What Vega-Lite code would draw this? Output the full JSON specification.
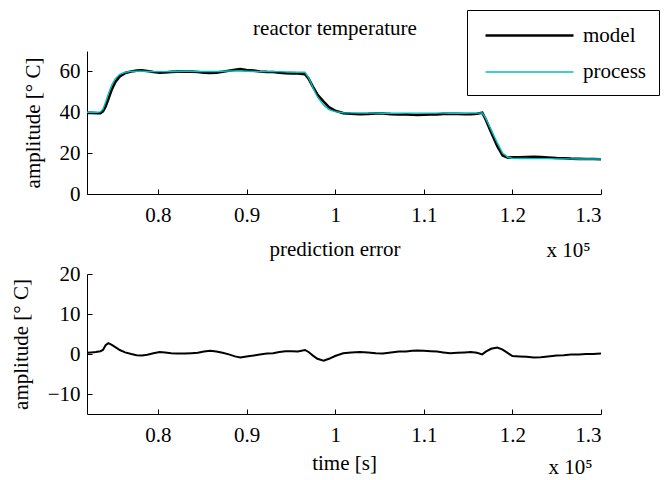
{
  "$schema": "https://vega.github.io/schema/vega-lite/v6.json",
  "background": "white",
  "padding": {"left": 10, "top": 9, "right": 3, "bottom": 0},
  "spacing": -21,
  "config": {
    "font": "Liberation Serif",
    "view": {"stroke": null},
    "axis": {
      "grid": false,
      "domainColor": "black",
      "domainWidth": 1,
      "tickColor": "black",
      "tickSize": -5,
      "labelColor": "black",
      "labelFont": "Liberation Serif",
      "labelFontSize": 21,
      "titleFont": "Liberation Serif",
      "titleFontSize": 21,
      "titleFontWeight": "normal",
      "titleColor": "black"
    },
    "axisX": {"labelPadding": 15, "titlePadding": 7},
    "axisY": {"labelPadding": 12, "titlePadding": 16},
    "title": {"font": "Liberation Serif", "fontSize": 21, "fontWeight": "normal", "color": "black"},
    "legend": {
      "orient": "none",
      "legendX": 380,
      "legendY": -41,
      "title": null,
      "strokeColor": "black",
      "fillColor": "white",
      "padding": 13,
      "labelFont": "Liberation Serif",
      "labelFontSize": 21,
      "labelColor": "black",
      "symbolType": "M-0.636,0H7.364",
      "symbolSize": 484,
      "labelOffset": 78,
      "rowPadding": 14
    }
  },
  "datasets": {
    "temp": [
      {"t": 0.720, "series": "model", "v": 39.7}, {"t": 0.726, "series": "model", "v": 39.7}, {"t": 0.732, "series": "model", "v": 39.5}, {"t": 0.735, "series": "model", "v": 39.5},
      {"t": 0.738, "series": "model", "v": 40.5}, {"t": 0.741, "series": "model", "v": 42.8}, {"t": 0.744, "series": "model", "v": 46.3}, {"t": 0.748, "series": "model", "v": 51.2},
      {"t": 0.752, "series": "model", "v": 54.8}, {"t": 0.757, "series": "model", "v": 57.6}, {"t": 0.763, "series": "model", "v": 59.2}, {"t": 0.770, "series": "model", "v": 60.0},
      {"t": 0.776, "series": "model", "v": 60.4}, {"t": 0.782, "series": "model", "v": 60.5}, {"t": 0.788, "series": "model", "v": 60.2}, {"t": 0.795, "series": "model", "v": 59.7},
      {"t": 0.802, "series": "model", "v": 59.4}, {"t": 0.808, "series": "model", "v": 59.5}, {"t": 0.815, "series": "model", "v": 59.8}, {"t": 0.822, "series": "model", "v": 59.9},
      {"t": 0.830, "series": "model", "v": 60.0}, {"t": 0.838, "series": "model", "v": 59.9}, {"t": 0.845, "series": "model", "v": 59.7}, {"t": 0.852, "series": "model", "v": 59.4},
      {"t": 0.859, "series": "model", "v": 59.2}, {"t": 0.866, "series": "model", "v": 59.4}, {"t": 0.873, "series": "model", "v": 59.8}, {"t": 0.880, "series": "model", "v": 60.3},
      {"t": 0.887, "series": "model", "v": 60.8}, {"t": 0.893, "series": "model", "v": 61.1}, {"t": 0.900, "series": "model", "v": 60.7}, {"t": 0.908, "series": "model", "v": 60.4},
      {"t": 0.915, "series": "model", "v": 60.0}, {"t": 0.923, "series": "model", "v": 59.8}, {"t": 0.930, "series": "model", "v": 59.7}, {"t": 0.937, "series": "model", "v": 59.4},
      {"t": 0.944, "series": "model", "v": 59.1}, {"t": 0.951, "series": "model", "v": 59.0}, {"t": 0.958, "series": "model", "v": 59.0}, {"t": 0.966, "series": "model", "v": 58.6},
      {"t": 0.970, "series": "model", "v": 56.5}, {"t": 0.975, "series": "model", "v": 52.4}, {"t": 0.980, "series": "model", "v": 48.7}, {"t": 0.987, "series": "model", "v": 45.2},
      {"t": 0.993, "series": "model", "v": 42.5}, {"t": 1.000, "series": "model", "v": 40.8}, {"t": 1.009, "series": "model", "v": 39.6}, {"t": 1.018, "series": "model", "v": 39.3},
      {"t": 1.028, "series": "model", "v": 39.1}, {"t": 1.037, "series": "model", "v": 39.2}, {"t": 1.046, "series": "model", "v": 39.4}, {"t": 1.054, "series": "model", "v": 39.4},
      {"t": 1.063, "series": "model", "v": 39.1}, {"t": 1.072, "series": "model", "v": 38.9}, {"t": 1.080, "series": "model", "v": 39.0}, {"t": 1.087, "series": "model", "v": 38.8},
      {"t": 1.093, "series": "model", "v": 38.7}, {"t": 1.100, "series": "model", "v": 38.8}, {"t": 1.108, "series": "model", "v": 38.9}, {"t": 1.115, "series": "model", "v": 39.0},
      {"t": 1.122, "series": "model", "v": 39.2}, {"t": 1.130, "series": "model", "v": 39.3}, {"t": 1.138, "series": "model", "v": 39.2}, {"t": 1.146, "series": "model", "v": 39.1},
      {"t": 1.153, "series": "model", "v": 39.1}, {"t": 1.160, "series": "model", "v": 39.3}, {"t": 1.166, "series": "model", "v": 39.8}, {"t": 1.170, "series": "model", "v": 36.4},
      {"t": 1.176, "series": "model", "v": 30.2}, {"t": 1.183, "series": "model", "v": 23.4}, {"t": 1.189, "series": "model", "v": 18.9}, {"t": 1.195, "series": "model", "v": 17.8},
      {"t": 1.200, "series": "model", "v": 18.0}, {"t": 1.208, "series": "model", "v": 18.0}, {"t": 1.216, "series": "model", "v": 18.1}, {"t": 1.224, "series": "model", "v": 18.2},
      {"t": 1.232, "series": "model", "v": 18.1}, {"t": 1.240, "series": "model", "v": 17.9}, {"t": 1.250, "series": "model", "v": 17.6}, {"t": 1.258, "series": "model", "v": 17.5},
      {"t": 1.266, "series": "model", "v": 17.3}, {"t": 1.275, "series": "model", "v": 17.2}, {"t": 1.283, "series": "model", "v": 17.1}, {"t": 1.291, "series": "model", "v": 17.1},
      {"t": 1.300, "series": "model", "v": 17.0},
      {"t": 0.720, "series": "process", "v": 40.0}, {"t": 0.726, "series": "process", "v": 40.1}, {"t": 0.732, "series": "process", "v": 40.0}, {"t": 0.735, "series": "process", "v": 40.2},
      {"t": 0.738, "series": "process", "v": 41.5}, {"t": 0.741, "series": "process", "v": 45.0}, {"t": 0.744, "series": "process", "v": 49.0}, {"t": 0.748, "series": "process", "v": 53.5},
      {"t": 0.752, "series": "process", "v": 56.5}, {"t": 0.757, "series": "process", "v": 58.6}, {"t": 0.763, "series": "process", "v": 59.6}, {"t": 0.770, "series": "process", "v": 60.0},
      {"t": 0.776, "series": "process", "v": 60.1}, {"t": 0.782, "series": "process", "v": 60.1}, {"t": 0.788, "series": "process", "v": 60.0}, {"t": 0.795, "series": "process", "v": 59.9},
      {"t": 0.802, "series": "process", "v": 59.9}, {"t": 0.808, "series": "process", "v": 59.9}, {"t": 0.815, "series": "process", "v": 60.0}, {"t": 0.822, "series": "process", "v": 60.0},
      {"t": 0.830, "series": "process", "v": 60.1}, {"t": 0.838, "series": "process", "v": 60.1}, {"t": 0.845, "series": "process", "v": 60.0}, {"t": 0.852, "series": "process", "v": 60.0},
      {"t": 0.859, "series": "process", "v": 60.0}, {"t": 0.866, "series": "process", "v": 60.0}, {"t": 0.873, "series": "process", "v": 60.1}, {"t": 0.880, "series": "process", "v": 60.2},
      {"t": 0.887, "series": "process", "v": 60.2}, {"t": 0.893, "series": "process", "v": 60.2}, {"t": 0.900, "series": "process", "v": 60.1}, {"t": 0.908, "series": "process", "v": 60.0},
      {"t": 0.915, "series": "process", "v": 59.9}, {"t": 0.923, "series": "process", "v": 59.9}, {"t": 0.930, "series": "process", "v": 59.9}, {"t": 0.937, "series": "process", "v": 59.9},
      {"t": 0.944, "series": "process", "v": 59.8}, {"t": 0.951, "series": "process", "v": 59.7}, {"t": 0.958, "series": "process", "v": 59.6}, {"t": 0.966, "series": "process", "v": 59.6},
      {"t": 0.970, "series": "process", "v": 57.0}, {"t": 0.975, "series": "process", "v": 52.0}, {"t": 0.980, "series": "process", "v": 47.5}, {"t": 0.987, "series": "process", "v": 43.5},
      {"t": 0.993, "series": "process", "v": 41.3}, {"t": 1.000, "series": "process", "v": 40.3}, {"t": 1.009, "series": "process", "v": 39.8}, {"t": 1.018, "series": "process", "v": 39.7},
      {"t": 1.028, "series": "process", "v": 39.6}, {"t": 1.037, "series": "process", "v": 39.6}, {"t": 1.046, "series": "process", "v": 39.6}, {"t": 1.054, "series": "process", "v": 39.5},
      {"t": 1.063, "series": "process", "v": 39.5}, {"t": 1.072, "series": "process", "v": 39.5}, {"t": 1.080, "series": "process", "v": 39.6}, {"t": 1.087, "series": "process", "v": 39.6},
      {"t": 1.093, "series": "process", "v": 39.6}, {"t": 1.100, "series": "process", "v": 39.6}, {"t": 1.108, "series": "process", "v": 39.6}, {"t": 1.115, "series": "process", "v": 39.6},
      {"t": 1.122, "series": "process", "v": 39.6}, {"t": 1.130, "series": "process", "v": 39.5}, {"t": 1.138, "series": "process", "v": 39.5}, {"t": 1.146, "series": "process", "v": 39.5},
      {"t": 1.153, "series": "process", "v": 39.6}, {"t": 1.160, "series": "process", "v": 39.6}, {"t": 1.166, "series": "process", "v": 39.7}, {"t": 1.170, "series": "process", "v": 37.0},
      {"t": 1.176, "series": "process", "v": 31.5}, {"t": 1.183, "series": "process", "v": 25.0}, {"t": 1.189, "series": "process", "v": 20.0}, {"t": 1.195, "series": "process", "v": 18.0},
      {"t": 1.200, "series": "process", "v": 17.5}, {"t": 1.208, "series": "process", "v": 17.4}, {"t": 1.216, "series": "process", "v": 17.4}, {"t": 1.224, "series": "process", "v": 17.3},
      {"t": 1.232, "series": "process", "v": 17.3}, {"t": 1.240, "series": "process", "v": 17.3}, {"t": 1.250, "series": "process", "v": 17.2}, {"t": 1.258, "series": "process", "v": 17.2},
      {"t": 1.266, "series": "process", "v": 17.2}, {"t": 1.275, "series": "process", "v": 17.1}, {"t": 1.283, "series": "process", "v": 17.1}, {"t": 1.291, "series": "process", "v": 17.1},
      {"t": 1.300, "series": "process", "v": 17.1}
    ],
    "err": [
      {"t": 0.720, "e": 0.3}, {"t": 0.725, "e": 0.4}, {"t": 0.730, "e": 0.5}, {"t": 0.735, "e": 0.7}, {"t": 0.738, "e": 1.0}, {"t": 0.741, "e": 2.2},
      {"t": 0.744, "e": 2.7}, {"t": 0.748, "e": 2.3}, {"t": 0.752, "e": 1.7}, {"t": 0.757, "e": 1.0}, {"t": 0.763, "e": 0.4}, {"t": 0.770, "e": 0.0},
      {"t": 0.776, "e": -0.3}, {"t": 0.782, "e": -0.4}, {"t": 0.788, "e": -0.2}, {"t": 0.795, "e": 0.2}, {"t": 0.802, "e": 0.5}, {"t": 0.808, "e": 0.4},
      {"t": 0.815, "e": 0.2}, {"t": 0.822, "e": 0.1}, {"t": 0.830, "e": 0.1}, {"t": 0.838, "e": 0.2}, {"t": 0.845, "e": 0.3}, {"t": 0.852, "e": 0.6},
      {"t": 0.859, "e": 0.8}, {"t": 0.866, "e": 0.6}, {"t": 0.873, "e": 0.3}, {"t": 0.880, "e": -0.1}, {"t": 0.887, "e": -0.6}, {"t": 0.893, "e": -0.9},
      {"t": 0.900, "e": -0.6}, {"t": 0.908, "e": -0.4}, {"t": 0.915, "e": -0.1}, {"t": 0.923, "e": 0.1}, {"t": 0.930, "e": 0.2}, {"t": 0.937, "e": 0.5},
      {"t": 0.944, "e": 0.7}, {"t": 0.951, "e": 0.7}, {"t": 0.958, "e": 0.6}, {"t": 0.966, "e": 1.0}, {"t": 0.970, "e": 0.5}, {"t": 0.975, "e": -0.4},
      {"t": 0.980, "e": -1.2}, {"t": 0.987, "e": -1.7}, {"t": 0.993, "e": -1.2}, {"t": 1.000, "e": -0.5}, {"t": 1.009, "e": 0.2}, {"t": 1.018, "e": 0.4},
      {"t": 1.028, "e": 0.5}, {"t": 1.037, "e": 0.4}, {"t": 1.046, "e": 0.2}, {"t": 1.054, "e": 0.1}, {"t": 1.063, "e": 0.4}, {"t": 1.072, "e": 0.6},
      {"t": 1.080, "e": 0.6}, {"t": 1.087, "e": 0.8}, {"t": 1.093, "e": 0.9}, {"t": 1.100, "e": 0.8}, {"t": 1.108, "e": 0.7}, {"t": 1.115, "e": 0.6},
      {"t": 1.122, "e": 0.4}, {"t": 1.130, "e": 0.2}, {"t": 1.138, "e": 0.3}, {"t": 1.146, "e": 0.4}, {"t": 1.153, "e": 0.5}, {"t": 1.160, "e": 0.3},
      {"t": 1.166, "e": -0.1}, {"t": 1.170, "e": 0.6}, {"t": 1.176, "e": 1.3}, {"t": 1.183, "e": 1.6}, {"t": 1.189, "e": 1.1}, {"t": 1.195, "e": 0.2},
      {"t": 1.200, "e": -0.5}, {"t": 1.208, "e": -0.6}, {"t": 1.216, "e": -0.7}, {"t": 1.224, "e": -0.9}, {"t": 1.232, "e": -0.8}, {"t": 1.240, "e": -0.6},
      {"t": 1.250, "e": -0.4}, {"t": 1.258, "e": -0.3}, {"t": 1.266, "e": -0.1}, {"t": 1.275, "e": -0.1}, {"t": 1.283, "e": 0.0}, {"t": 1.291, "e": 0.0},
      {"t": 1.300, "e": 0.1}
    ]
  },
  "vconcat": [
    {
      "width": 514,
      "height": 143,
      "title": {"text": "reactor temperature", "dx": -9, "offset": 12},
      "data": {"name": "temp"},
      "mark": {"type": "line"},
      "encoding": {
        "x": {"field": "t", "type": "quantitative",
              "scale": {"domain": [0.72, 1.3], "nice": false, "zero": false},
              "axis": {"values": [0.8, 0.9, 1.0, 1.1, 1.2, 1.3], "format": ".1~f", "title": "x 10⁵", "titleAnchor": "end", "titleAlign": "right", "titleBaseline": "alphabetic", "titleX": 503, "titleY": 62}},
        "y": {"field": "v", "type": "quantitative",
              "scale": {"domain": [0, 70], "nice": false},
              "axis": {"values": [0, 20, 40, 60], "title": "amplitude [° C]"}},
        "color": {"field": "series", "type": "nominal",
                  "scale": {"domain": ["model", "process"], "range": ["black", "#00BFBF"]},
                  "legend": {"labelExpr": "datum.label + '\u2002'"}},
        "strokeWidth": {"field": "series", "type": "nominal",
                        "scale": {"domain": ["model", "process"], "range": [2.6, 1.4]}}
      }
    },
    {
      "width": 514,
      "height": 140,
      "title": {"text": "prediction error", "dx": -9, "offset": 3},
      "data": {"name": "err"},
      "layer": [
        {
          "mark": {"type": "line", "color": "black", "strokeWidth": 2},
          "encoding": {
            "x": {"field": "t", "type": "quantitative",
                  "scale": {"domain": [0.72, 1.3], "nice": false, "zero": false},
                  "axis": {"values": [0.8, 0.9, 1.0, 1.1, 1.2, 1.3], "format": ".1~f", "title": "time [s]"}},
            "y": {"field": "e", "type": "quantitative",
                  "scale": {"domain": [-15, 20], "nice": false},
                  "axis": {"values": [-10, 0, 10, 20], "title": "amplitude [° C]"}}
          }
        },
        {
          "mark": {"type": "line", "opacity": 0},
          "encoding": {
            "x": {"field": "t", "type": "quantitative",
                  "axis": {"orient": "bottom", "labels": false, "ticks": false, "domain": false, "title": "x 10⁵", "titleAnchor": "end", "titleAlign": "right", "titleBaseline": "alphabetic", "titleX": 505, "titleY": 59}},
            "y": {"field": "e", "type": "quantitative"}
          }
        }
      ],
      "resolve": {"axis": {"x": "independent"}}
    }
  ]
}
